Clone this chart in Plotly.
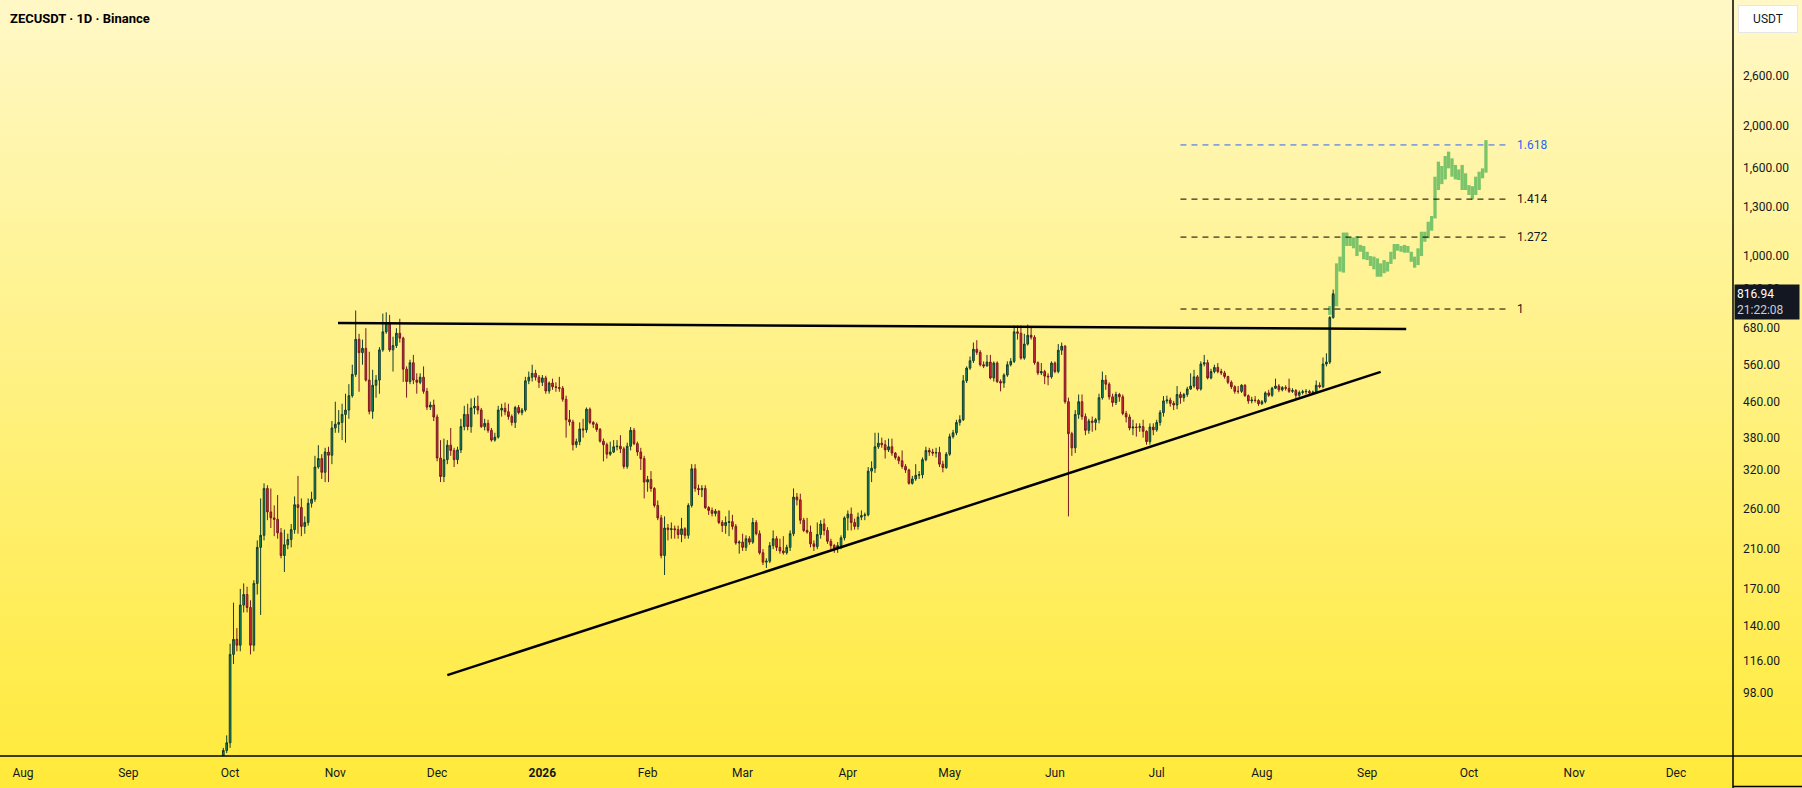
import base64
import math
import pandas as pd
import plotly.graph_objects as go

# daily ZEC/USDT candles (open = previous close)
first_open = 70
closes = [
    72, 75, 120, 130, 126, 156, 165, 154, 126, 175, 212, 226, 290, 256, 248, 246, 229, 203, 215, 221,
    233, 266, 262, 237, 242, 268, 274, 325, 340, 316, 352, 346, 400, 408, 412, 430, 440, 475, 532, 641,
    597, 611, 516, 437, 502, 516, 606, 667, 700, 606, 620, 662, 645, 547, 512, 566, 516, 510, 524, 486,
    447, 452, 424, 341, 309, 338, 365, 355, 338, 356, 403, 430, 403, 445, 449, 440, 403, 410, 395, 375,
    381, 440,
    444, 436, 425, 412, 446, 434, 440, 514, 524, 535, 524, 510, 522, 487, 508, 498, 496, 494, 466, 418,
    413, 366, 372, 398, 396, 442, 412, 408, 397, 373, 366, 348, 352, 362, 363, 358, 326, 363, 395, 368,
    352, 340, 300, 304, 290, 265, 248, 203, 235, 233, 234, 233, 227, 234, 226, 265, 322, 290, 288, 290,
    262, 258, 254, 257, 242, 238, 242, 243, 237, 217, 218, 212, 222, 218, 242, 228, 206, 196, 197, 214,
    222, 212, 208, 206, 212,
    228, 277, 273, 245, 232, 230, 216, 213, 227, 240, 232, 219, 214, 211, 214, 223, 248, 253, 242, 237,
    249, 251, 252, 318, 323, 362, 369, 366, 356, 362, 350, 342, 336, 326, 320, 298, 305, 311, 312, 338,
    355, 352, 350, 351, 330, 324, 348, 382, 390, 412, 418, 514, 550, 572, 608, 598, 560, 556, 568, 522,
    565, 512, 508, 530, 560, 570, 667, 662, 580, 625, 655, 648, 566, 536, 540, 527, 525, 565, 540, 605,
    618,
    460, 388, 360, 430, 460, 425, 395, 415, 412, 418, 470, 516, 505, 472, 458, 478, 472, 432, 424, 400,
    402, 401, 403, 393, 372, 402, 396, 412, 434, 462, 464, 456, 452, 478, 470, 478, 492, 500, 525, 492,
    562, 566, 522, 540, 552, 540, 536, 526, 510, 498, 486, 486, 502, 475, 462, 464, 463, 455, 460, 482,
    476, 494, 500, 490, 496, 494, 486, 488, 476, 483, 485, 486, 482, 484, 502, 498, 562, 568, 720, 816.94,
]
highs = [
    73, 78, 127, 158, 138, 170, 175, 172, 160, 178, 220, 275, 298, 295, 290, 265, 280, 235, 233, 228,
    240, 278, 310, 275, 250, 275, 285, 345, 365, 348, 360, 362, 415, 460, 440, 455, 480, 505, 560, 747,
    660, 640, 680, 600, 545, 530, 615, 735, 740, 730, 650, 680, 715, 650, 555, 575, 590, 535, 535, 555,
    495, 460, 465, 430, 375, 378, 375, 400, 360, 362, 420, 450, 455, 468, 470, 475, 445, 420, 418, 400,
    390, 450,
    455, 458, 455, 430, 450, 452, 445, 525, 540, 560, 545, 530, 530, 528, 512, 520, 510, 525, 500, 475,
    440, 418, 378, 412, 420, 446, 446, 415, 412, 400, 378, 370, 372, 375, 375, 385, 362, 370, 402, 400,
    372, 360, 345, 310, 318, 292, 272, 252, 250, 240, 242, 238, 238, 248, 236, 268, 330, 330, 296, 295,
    295, 264, 262, 260, 258, 245, 250, 258, 252, 240, 220, 228, 226, 225, 248, 245, 232, 210, 200, 218,
    232, 225, 222, 225, 215,
    232, 290, 283, 282, 248, 248, 238, 220, 242, 245, 247, 236, 222, 216, 218, 226, 250, 258, 262, 247,
    255, 258, 255, 325, 335, 390, 390, 380, 375, 378, 378, 352, 345, 355, 330, 322, 310, 330, 318, 342,
    362, 360, 358, 360, 362, 336, 352, 388, 396, 418, 428, 530, 555, 585, 630, 638, 605, 570, 590, 590,
    570, 570, 518, 535, 570, 580, 690, 690, 690, 660, 693, 685, 655, 570, 565, 545, 535, 570, 570, 625,
    630,
    622, 470, 392, 440, 478, 478, 432, 420, 425, 422, 480, 540, 530, 510, 480, 485, 482, 478, 438, 430,
    418, 410, 410, 418, 395, 410, 410, 418, 440, 474, 475, 470, 462, 500, 485, 482, 498, 535, 545, 530,
    570, 590, 575, 548, 560, 565, 548, 542, 528, 515, 502, 500, 505, 505, 478, 472, 474, 466, 464, 486,
    490, 498, 520, 505, 500, 502, 520, 494, 492, 488, 490, 492, 490, 488, 515, 510, 582, 595, 725, 835,
]
lows = [
    69, 71, 73, 114, 122, 122, 150, 150, 120, 122, 165, 148, 220, 245, 235, 225, 222, 200, 186, 210,
    212, 228, 228, 225, 228, 238, 262, 270, 322, 305, 300, 300, 330, 390, 390, 375, 370, 420, 470, 525,
    485, 560, 512, 430, 420, 470, 480, 600, 660, 600, 540, 612, 630, 511, 470, 505, 505, 480, 505, 480,
    440, 440, 415, 335, 300, 300, 330, 345, 325, 330, 350, 395, 395, 390, 430, 430, 400, 395, 390, 372,
    372, 378,
    425, 428, 418, 405, 400, 430, 428, 436, 505, 512, 515, 495, 500, 480, 480, 490, 485, 485, 460, 380,
    405, 355, 360, 365, 380, 390, 408, 400, 392, 370, 335, 340, 345, 350, 355, 350, 322, 322, 355, 365,
    345, 320, 275, 285, 285, 262, 245, 200, 183, 220, 222, 222, 222, 218, 222, 222, 262, 285, 280, 277,
    260, 252, 250, 250, 240, 230, 228, 225, 233, 215, 205, 208, 208, 215, 216, 226, 204, 193, 190, 195,
    210, 208, 205, 204, 204,
    208, 225, 265, 240, 230, 228, 212, 208, 210, 222, 226, 216, 210, 206, 206, 210, 220, 232, 232, 233,
    233, 245, 245, 250, 300, 315, 358, 360, 340, 352, 345, 338, 330, 322, 315, 296, 296, 302, 305, 306,
    335, 345, 345, 342, 325, 316, 322, 345, 378, 385, 405, 415, 508, 545, 565, 590, 555, 550, 555, 518,
    512, 508, 486, 495, 525, 555, 565, 640, 575, 575, 620, 640, 560, 530, 530, 505, 502, 520, 535, 535,
    590,
    455, 250, 345, 350, 420, 418, 385, 388, 392, 395, 410, 465, 490, 465, 448, 452, 460, 428, 412, 395,
    385, 382, 392, 380, 366, 366, 385, 392, 405, 425, 455, 448, 440, 442, 455, 460, 472, 490, 495, 488,
    488, 555, 518, 518, 535, 535, 530, 520, 505, 492, 480, 480, 482, 472, 455, 456, 458, 450, 452, 456,
    472, 472, 492, 484, 486, 488, 482, 482, 468, 472, 478, 478, 478, 478, 480, 494, 494, 555, 562, 715,
]
candle_start = "2025-09-29"

# projected path (bars pattern), one low/high range per day
proj_low = [
    730, 765, 764, 919, 914, 1053, 1053, 1040, 998, 1021, 981, 977, 947, 930, 894, 894, 911, 919, 957, 981,
    1027, 1021, 1016, 1016, 968, 938, 951, 998, 1077, 1097, 1142, 1219, 1418, 1463, 1500, 1591, 1522, 1500,
    1495, 1418, 1418, 1381, 1349, 1381, 1418, 1509, 1555,
]
proj_high = [
    765, 812, 960, 995, 1131, 1131, 1102, 1102, 1110, 1059, 1053, 1021, 998, 995, 986, 960, 977, 968, 1021,
    1064, 1064, 1053, 1059, 1053, 1021, 995, 1040, 1136, 1136, 1198, 1235, 1522, 1649, 1611, 1699, 1739,
    1678, 1620, 1582, 1620, 1550, 1455, 1447, 1522, 1563, 1591, 1849,
]
proj_start = "2026-08-21"

# fib extension levels
fib_labels = ["1", "1.272", "1.414", "1.618"]
fib_prices = [753, 1104, 1351, 1802]
fib_dates = ["2026-07-08", "2026-10-12"]

# hand drawn trend lines
res_dates = ["2025-11-01 19:00", "2026-09-12 12:00"]
res_prices = [699, 677]
sup_dates = ["2025-12-04", "2026-09-05"]
sup_prices = [107.5, 539]

ytick_vals = [98, 116, 140, 170, 210, 260, 320, 380, 460, 560, 680, 840, 1000, 1300, 1600, 2000, 2600]
month_ticks = pd.date_range("2025-08-01", "2026-12-01", freq="MS")
month_text = ["<b>2026</b>" if d.month == 1 else d.strftime("%b") for d in month_ticks]

last_time = "21:22:08"

W, H = 1802, 788
L, R, T, B = 0, 69, 0, 32
PW, PH = W - L - R, H - T - B

FONT = "Roboto"
TXT = "#131722"

dates = pd.date_range(candle_start, periods=len(closes), freq="D")
opens = [first_open] + closes[:-1]
proj_dates = pd.date_range(proj_start, periods=len(proj_low), freq="D")

fig = go.Figure()

fig.add_trace(go.Bar(
    x=proj_dates, base=proj_low,
    y=[h - l for h, l in zip(proj_high, proj_low)],
    width=86400000 * 0.98,
    marker=dict(color="#7CC46A", line=dict(width=0)),
    hoverinfo="skip"))

fig.add_trace(go.Candlestick(
    x=dates, open=opens, high=highs, low=lows, close=closes,
    increasing=dict(fillcolor="#0C8F6E", line=dict(color="#123D2E", width=1)),
    decreasing=dict(fillcolor="#DB2B3E", line=dict(color="#7A1622", width=1)),
    whiskerwidth=0))

fig.add_trace(go.Scatter(x=res_dates, y=res_prices, mode="lines",
                         line=dict(color="#000000", width=2.5), hoverinfo="skip"))
fig.add_trace(go.Scatter(x=sup_dates, y=sup_prices, mode="lines",
                         line=dict(color="#000000", width=2.5), hoverinfo="skip"))

for lab, p in zip(fib_labels, fib_prices):
    col = "#2962FF" if lab == "1.618" else "#000000"
    fig.add_trace(go.Scatter(x=fib_dates, y=[p, p], mode="lines",
                             line=dict(color=col, width=1, dash="6px,5px"), hoverinfo="skip"))
    fig.add_annotation(x=fib_dates[1], y=math.log10(p), xref="x", yref="y", text=lab,
                       showarrow=False, xanchor="left", xshift=9,
                       font=dict(family=FONT, size=12, color=col if lab == "1.618" else TXT))

# yellow gradient background
svg = ('<svg xmlns="http://www.w3.org/2000/svg" width="10" height="100" viewBox="0 0 10 100" '
       'preserveAspectRatio="none"><defs><linearGradient id="g" x1="0" y1="0" x2="0" y2="1">'
       '<stop offset="0" stop-color="#FFF8C6"/><stop offset="1" stop-color="#FFEA3A"/>'
       '</linearGradient></defs><rect width="10" height="100" fill="url(#g)"/></svg>')
bg_src = "data:image/svg+xml;base64," + base64.b64encode(svg.encode()).decode()

fig.add_layout_image(source=bg_src, xref="paper", yref="paper", x=0, y=1,
                     sizex=W / PW, sizey=H / PH, xanchor="left", yanchor="top",
                     sizing="stretch", layer="below")

# frame lines round the price / time scales
right = W / PW
bottom = -B / PH
for x0, y0, x1, y1 in [(0, 0, right, 0), (1, bottom, 1, 1), (1, bottom + 0.002, right, bottom + 0.002)]:
    fig.add_shape(type="line", xref="paper", yref="paper", x0=x0, y0=y0, x1=x1, y1=y1,
                  line=dict(color="#000000", width=1.5))

fig.add_annotation(xref="paper", yref="paper", x=8 / PW, y=1 - 18 / PH, text="<b>ZECUSDT · 1D · Binance</b>",
                   showarrow=False, xanchor="left", yanchor="middle",
                   font=dict(family=FONT, size=13, color="#000000"))

fig.add_annotation(xref="paper", yref="paper", x=1 + 35 / PW, y=1 - 19 / PH, text="USDT",
                   showarrow=False, xanchor="center", yanchor="middle", bgcolor="#FFFFFF",
                   bordercolor="#E6E6E6", borderwidth=1, borderpad=6, width=46,
                   font=dict(family=FONT, size=12, color=TXT))

fig.add_annotation(xref="paper", yref="paper", x=1 + 1 / PW, y=1 - 302 / PH,
                   text=f"{closes[-1]:.2f}<br><span style='color:#C9CCD4'>{last_time}</span>",
                   showarrow=False, xanchor="left", yanchor="middle", align="left",
                   bgcolor="#131722", borderpad=2, width=60,
                   font=dict(family=FONT, size=12, color="#FFFFFF"))

fig.update_layout(
    width=W, height=H,
    margin=dict(l=L, r=R, t=T, b=B),
    paper_bgcolor="#FFF27A",
    plot_bgcolor="rgba(0,0,0,0)",
    showlegend=False,
    barmode="overlay",
    hovermode=False,
    font=dict(family=FONT, size=12, color=TXT),
)
fig.update_xaxes(
    type="date", range=["2025-07-25 05:00", "2026-12-17 19:00"],
    rangeslider=dict(visible=False), showgrid=False, zeroline=False,
    tickvals=month_ticks, ticktext=month_text, ticks="", ticklabelstandoff=8,
    tickfont=dict(family=FONT, size=12, color=TXT),
)
fig.update_yaxes(
    type="log", range=[1.8445, 3.5905], side="right", autorange=False,
    showgrid=False, zeroline=False,
    tickvals=ytick_vals, tickformat=",.2f", ticks="", ticklabelstandoff=9,
    tickfont=dict(family=FONT, size=12, color=TXT),
)

# drop the page margin so the 1802x788 figure fills the window exactly
fig.write_html("out.html", config={"displayModeBar": False},
               post_script="document.body.style.margin='0';"
               "document.documentElement.style.overflow='hidden';")
